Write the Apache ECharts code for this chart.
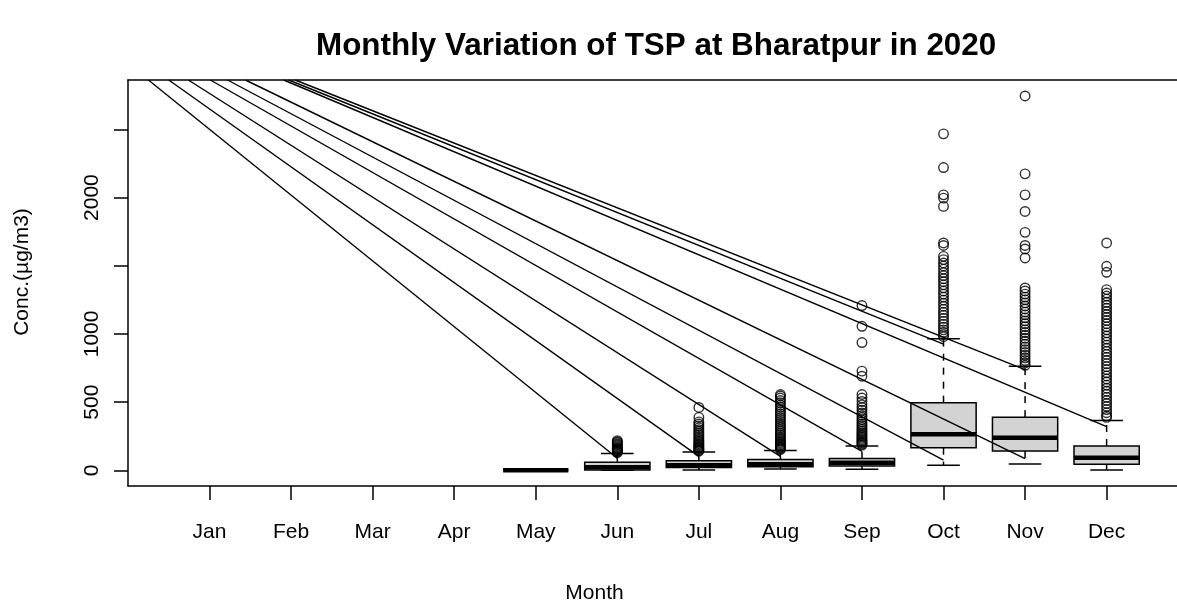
<!DOCTYPE html>
<html>
<head>
<meta charset="utf-8">
<script src="https://cdn.jsdelivr.net/npm/echarts@6/dist/echarts.min.js"></script>
<style>
  html, body { margin: 0; padding: 0; background: #fff; }
  #chart { width: 1177px; height: 603px; }
</style>
</head>
<body>
<div id="chart"></div>
<script>
const months = ['Jan', 'Feb', 'Mar', 'Apr', 'May', 'Jun', 'Jul', 'Aug', 'Sep', 'Oct', 'Nov', 'Dec']

// box statistics, May..Dec (month number on the x axis)
const boxMonth = [5, 6, 7, 8, 9, 10, 11, 12]
const boxLow = [0, 0, 2, 10, 7, 37, 46, 2]
const boxQ1 = [0, 3, 20, 27, 31, 166, 141, 44]
const boxMedian = [0, 22, 37, 45, 55, 264, 239, 93]
const boxQ3 = [0, 60, 70, 80, 86, 496, 390, 178]
const boxHigh = [0, 124, 134, 146, 178, 964, 763, 366]

// outliers per month
const outJun = [130, 135, 140, 145, 150, 155, 160, 165, 172, 180, 188, 195, 203, 210, 218]
const outJul = [140, 146, 152, 158, 165, 172, 180, 188, 196, 205, 215, 225, 236, 248, 260, 272, 285, 298, 312, 326, 340, 355, 388, 461]
const outAug = [152, 158, 165, 172, 180, 188, 197, 206, 216, 226, 237, 248, 260, 272, 285, 298, 312, 326, 340, 355, 370, 385, 400, 415, 430, 445, 462, 478, 495, 512, 530, 545, 556]
const outSep = [185, 192, 200, 208, 216, 225, 234, 244, 254, 265, 276, 288, 300, 313, 326, 340, 355, 370, 386, 402, 420, 440, 460, 480, 505, 530, 556, 690, 727, 937, 1056, 1208]
const outOct = [980, 995, 1012, 1030, 1050, 1070, 1092, 1114, 1136, 1158, 1180, 1203, 1225, 1248, 1270, 1292, 1315, 1338, 1360, 1383, 1405, 1428, 1450, 1475, 1498, 1520, 1545, 1569, 1649, 1667, 1935, 1996, 2020, 2220, 2467]
const outNov = [770, 787, 805, 825, 845, 865, 885, 905, 925, 946, 968, 990, 1010, 1030, 1053, 1075, 1096, 1118, 1140, 1160, 1183, 1205, 1228, 1250, 1270, 1292, 1315, 1337, 1557, 1623, 1649, 1745, 1898, 2020, 2174, 2745]
const outDec = [388, 400, 422, 445, 468, 490, 512, 535, 558, 580, 602, 625, 648, 670, 692, 715, 738, 760, 782, 805, 828, 850, 872, 895, 918, 940, 962, 985, 1008, 1030, 1052, 1075, 1098, 1120, 1142, 1165, 1188, 1210, 1232, 1255, 1278, 1300, 1325, 1452, 1496, 1667]

// stray straight lines: x where each leaves the top of the frame, and where each ends
const lineStartX = [0.25, 0.5, 0.74, 1.01, 1.22, 1.44, 1.91, 1.97, 2.05]
const lineEndX = [6, 7, 8, 9, 10, 11, 12, 10, 11]
const lineEndY = [88, 102, 102, 139, 75, 86, 320, 925, 739]

const yTicks = [0, 500, 1000, 1500, 2000, 2500]
const yLabels = [0, 500, 1000, 2000]
const yMin = -115
const yMax = 2862
const xMax = 12.863

const font = 'Liberation Sans, Arial, sans-serif'

const boxData = boxMonth.map((m, i) => [m, boxLow[i], boxQ1[i], boxMedian[i], boxQ3[i], boxHigh[i]])

const outliers = []
const outByMonth = { 6: outJun, 7: outJul, 8: outAug, 9: outSep, 10: outOct, 11: outNov, 12: outDec }
Object.keys(outByMonth).forEach(m => {
  outByMonth[m].forEach(v => outliers.push([Number(m), v]))
})

function renderBox(params, api) {
  const x = api.value(0)
  const lo = api.coord([x, api.value(1)])
  const q1 = api.coord([x, api.value(2)])
  const md = api.coord([x, api.value(3)])
  const q3 = api.coord([x, api.value(4)])
  const hi = api.coord([x, api.value(5)])
  const w = api.size([0.8, 0])[0]
  const cx = lo[0]
  const dash = { stroke: '#000', lineWidth: 1.5, lineDash: [7, 7] }
  const solid = { stroke: '#000', lineWidth: 1.5 }
  return {
    type: 'group',
    children: [
      { type: 'line', shape: { x1: cx, y1: q3[1], x2: cx, y2: hi[1] }, style: dash },
      { type: 'line', shape: { x1: cx, y1: q1[1], x2: cx, y2: lo[1] }, style: dash },
      { type: 'line', shape: { x1: cx - w / 4, y1: hi[1], x2: cx + w / 4, y2: hi[1] }, style: solid },
      { type: 'line', shape: { x1: cx - w / 4, y1: lo[1], x2: cx + w / 4, y2: lo[1] }, style: solid },
      { type: 'rect', shape: { x: cx - w / 2, y: q3[1], width: w, height: q1[1] - q3[1] }, style: { fill: '#d3d3d3', stroke: '#000', lineWidth: 1.5 } },
      { type: 'line', shape: { x1: cx - w / 2, y1: md[1], x2: cx + w / 2, y2: md[1] }, style: { stroke: '#000', lineWidth: 4.5 } }
    ]
  }
}

const lineSeries = lineEndX.map((ex, i) => ({
  type: 'line',
  data: [[lineStartX[i], yMax], [ex, lineEndY[i]]],
  showSymbol: false,
  silent: true,
  clip: true,
  lineStyle: { color: '#000', width: 1.4 },
  z: 5
}))

const axisText = { fontFamily: font, fontSize: 21, color: '#000' }
const blackLine = { color: '#000', width: 1.5 }

const chart = echarts.init(document.getElementById('chart'))
chart.setOption({
  backgroundColor: '#fff',
  animation: false,
  title: {
    text: 'Monthly Variation of TSP at Bharatpur in 2020',
    left: 311,
    top: 26,
    textStyle: { fontFamily: font, fontWeight: 'bold', fontSize: 31.4, color: '#000' }
  },
  grid: {
    left: 128,
    top: 80,
    right: 0,
    bottom: 117,
    outerBoundsMode: 'none'
  },
  xAxis: [{
    type: 'value',
    min: 0,
    max: xMax,
    name: 'Month',
    nameLocation: 'middle',
    nameGap: 97,
    nameTextStyle: Object.assign({ padding: [0, 116, 0, 0] }, axisText),
    axisLine: { show: true, onZero: false, lineStyle: blackLine },
    splitLine: { show: false },
    axisTick: {
      show: true,
      length: 14,
      customValues: [1, 2, 3, 4, 5, 6, 7, 8, 9, 10, 11, 12],
      lineStyle: blackLine
    },
    axisLabel: Object.assign({
      customValues: [1, 2, 3, 4, 5, 6, 7, 8, 9, 10, 11, 12],
      formatter: v => months[Math.round(v) - 1],
      margin: 36
    }, axisText)
  }, {
    type: 'value',
    position: 'top',
    min: 0,
    max: xMax,
    axisLine: { show: true, onZero: false, lineStyle: blackLine },
    axisTick: { show: false },
    axisLabel: { show: false },
    splitLine: { show: false }
  }],
  yAxis: {
    type: 'value',
    min: yMin,
    max: yMax,
    name: 'Conc.(µg/m3)',
    nameLocation: 'middle',
    nameGap: 95,
    nameRotate: 90,
    nameTextStyle: Object.assign({ padding: [0, 0, 0, 22] }, axisText),
    axisLine: { show: true, onZero: false, lineStyle: blackLine },
    splitLine: { show: false },
    axisTick: {
      show: true,
      length: 14,
      customValues: yTicks,
      lineStyle: blackLine
    },
    axisLabel: Object.assign({
      customValues: yLabels,
      formatter: v => String(v),
      rotate: 90,
      margin: 25
    }, axisText)
  },
  series: [
    {
      type: 'custom',
      renderItem: renderBox,
      data: boxData,
      encode: { x: 0, y: [1, 2, 3, 4, 5] },
      silent: true,
      z: 2
    },
    {
      type: 'scatter',
      data: outliers,
      symbol: 'circle',
      symbolSize: 9.5,
      silent: true,
      itemStyle: { color: 'rgba(0,0,0,0)', borderColor: '#000', borderWidth: 1.4 },
      z: 3
    }
  ].concat(lineSeries)
})
</script>
</body>
</html>
